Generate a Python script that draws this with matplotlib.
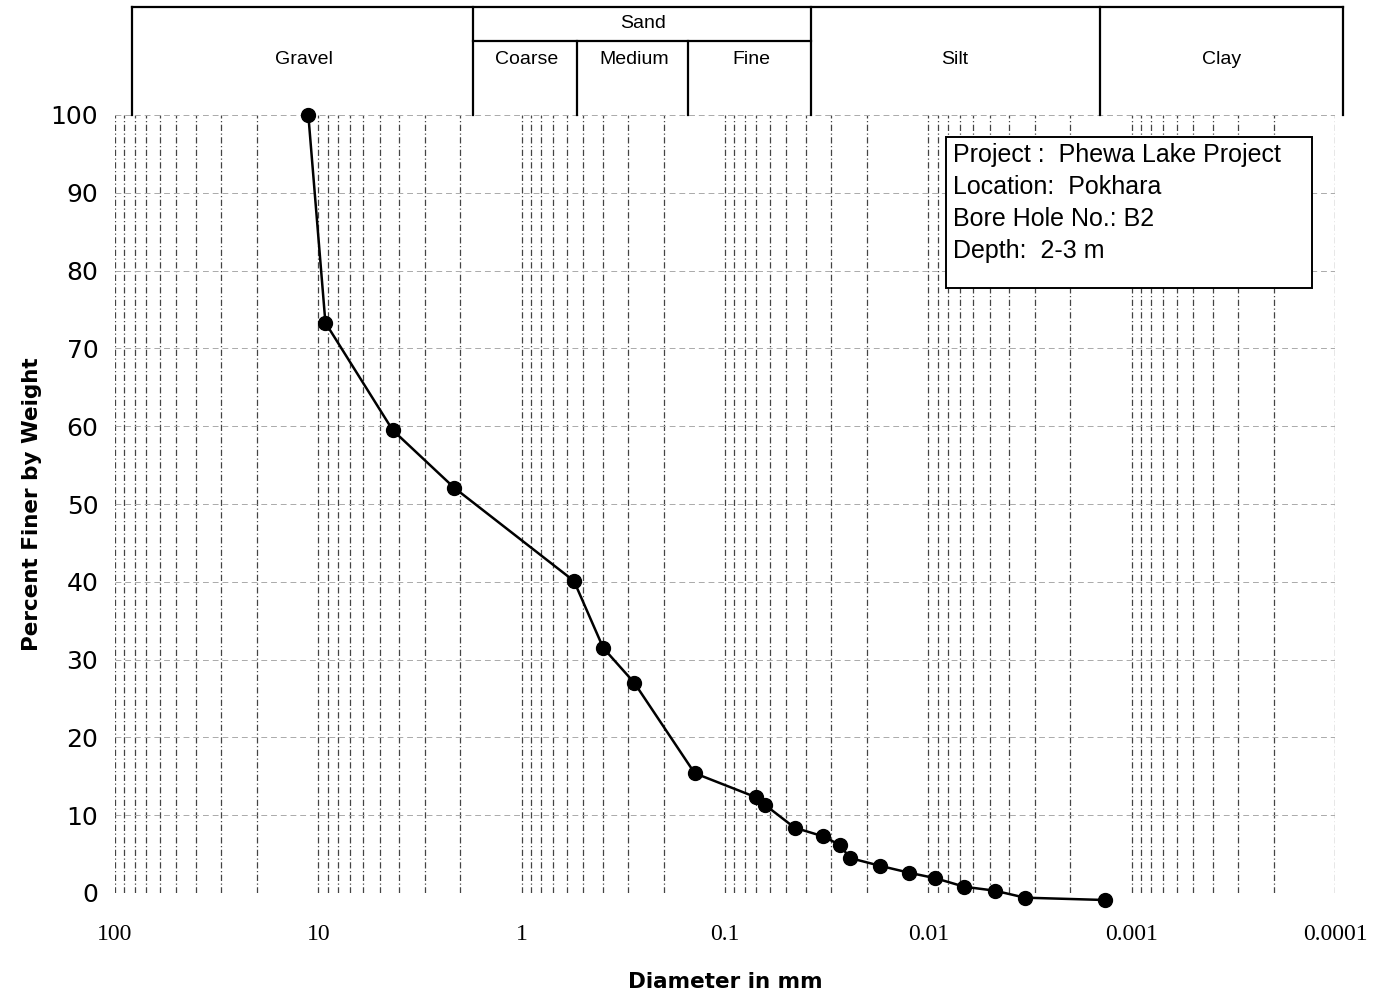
import matplotlib
matplotlib.use("Agg")
import matplotlib.pyplot as plt
from matplotlib.ticker import FixedLocator, LogLocator, NullFormatter

# ---- data ----
diameter_mm = [11.2, 9.23, 4.31, 2.15, 0.553, 0.397, 0.279, 0.141, 0.0703, 0.0634,
               0.0455, 0.0331, 0.0273, 0.0243, 0.0173, 0.0124, 0.00923, 0.00664,
               0.00471, 0.00335, 0.00136]
percent_finer = [100, 73.3, 59.5, 52.1, 40.1, 31.5, 27.0, 15.4, 12.3, 11.3,
                 8.4, 7.3, 6.2, 4.5, 3.5, 2.6, 1.9, 0.8, 0.3, -0.6, -0.9]
x_ticks = [100, 10, 1, 0.1, 0.01, 0.001, 0.0001]
x_ticklabels = ["100", "10", "1", "0.1", "0.01", "0.001", "0.0001"]
y_ticks = [0, 10, 20, 30, 40, 50, 60, 70, 80, 90, 100]
soil_classes = ["Gravel", "Coarse", "Medium", "Fine", "Silt", "Clay"]
sand_label = "Sand"
info_lines = ["Project :  Phewa Lake Project", "Location:  Pokhara",
              "Bore Hole No.: B2", "Depth:  2-3 m"]

W, H = 1385, 1000
fig = plt.figure(figsize=(W / 100, H / 100), dpi=100)
fig.patch.set_facecolor("white")

def fx(px):
    return px / W

def fy(py):
    return 1 - py / H

ax = fig.add_axes([fx(115), fy(893), fx(1335) - fx(115), fy(115) - fy(893)])
ax.set_xscale("log")
ax.set_xlim(100, 0.0001)
ax.set_ylim(0, 100)
for s in ax.spines.values():
    s.set_visible(False)

ax.xaxis.set_major_locator(FixedLocator(x_ticks))
ax.set_xticklabels(x_ticklabels, fontsize=17, family="Liberation Serif")
ax.xaxis.set_minor_locator(LogLocator(base=10, subs=range(2, 10), numticks=50))
ax.xaxis.set_minor_formatter(NullFormatter())
ax.set_yticks(y_ticks)
ax.set_yticklabels([str(v) for v in y_ticks], fontsize=18, family="DejaVu Sans")
ax.tick_params(axis="both", which="both", length=0)
ax.tick_params(axis="x", pad=22)
ax.tick_params(axis="y", pad=12)

grid_kw = dict(color="#444444", linewidth=0.9, linestyle=(0, (5, 2, 1, 2)))
ax.grid(True, axis="x", which="both", **grid_kw)
ax.grid(True, axis="y", which="major", color="#aaaaaa", linewidth=0.7,
        linestyle=(0, (6, 4)))

ax.plot(diameter_mm, percent_finer, color="black", linewidth=1.8,
        marker="o", markersize=10, clip_on=False, zorder=5)

ax.set_xlabel("Diameter in mm", fontsize=15.5, fontweight="bold", labelpad=20)
ax.set_ylabel("Percent Finer by Weight", fontsize=15.5, fontweight="bold", labelpad=6)

# info box
box = plt.Rectangle((fx(946), fy(288)), fx(1312) - fx(946), fy(137) - fy(288),
                    transform=fig.transFigure, facecolor="white", edgecolor="black",
                    linewidth=1.4, zorder=6)
fig.patches.append(box)
for i, line in enumerate(info_lines):
    fig.text(fx(953), fy(155 + i * 32), line, fontsize=18, va="center", ha="left",
             family="Liberation Sans", zorder=7)

# header table
hx0, hx1, hy0, hy1 = 132, 1343, 7, 115
hax = fig.add_axes([fx(hx0), fy(hy1), fx(hx1) - fx(hx0), fy(hy0) - fy(hy1)])
hax.set_xlim(hx0, hx1)
hax.set_ylim(hy1, hy0)
hax.axis("off")
lk = dict(color="black", linewidth=1.6, clip_on=False)
hax.plot([hx0, hx1], [hy0, hy0], **lk)
hax.plot([hx0, hx0], [hy0, hy1], **lk)
hax.plot([hx1, hx1], [hy0, hy1], **lk)
for xv in [473, 811, 1100]:
    hax.plot([xv, xv], [hy0, hy1], **lk)
for xv in [577, 688]:
    hax.plot([xv, xv], [41, hy1], **lk)
hax.plot([473, 811], [41, 41], **lk)
label_x = [304, 527, 634, 751, 955, 1222]
for name, xv in zip(soil_classes, label_x):
    hax.text(xv, 59, name, ha="center", va="center", fontsize=14, family="Liberation Sans")
hax.text(643, 24, sand_label, ha="center", va="center", fontsize=14, family="Liberation Sans")

fig.savefig("out.png", dpi=100, facecolor="white")
